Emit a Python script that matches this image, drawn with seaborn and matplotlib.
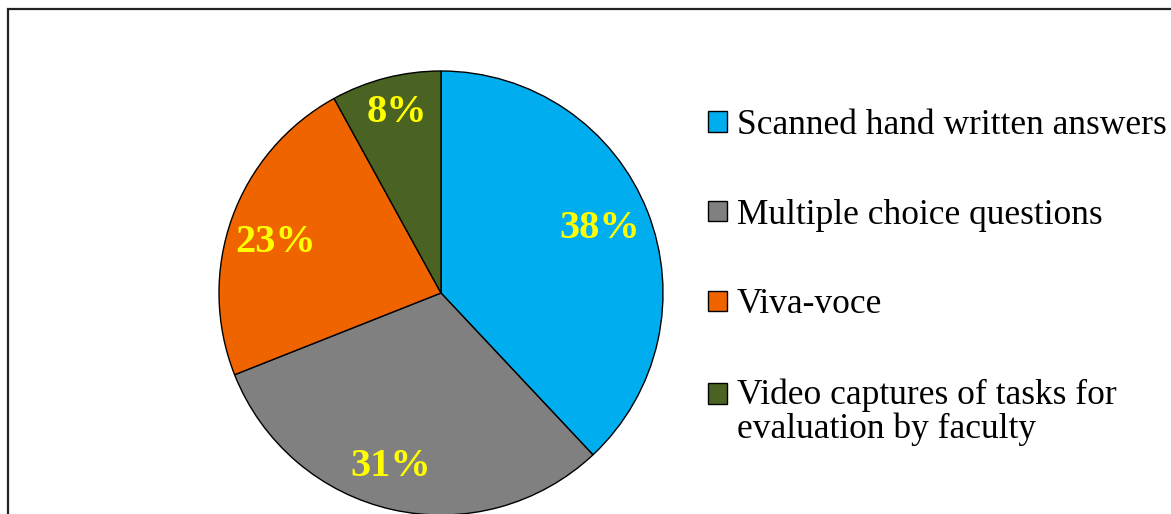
import matplotlib
matplotlib.use("Agg")
import numpy as np
import matplotlib.pyplot as plt
from matplotlib.patches import Rectangle
from matplotlib.legend_handler import HandlerPatch
import seaborn as sns

categories = ["Scanned hand written answers",
              "Multiple choice questions",
              "Viva-voce",
              "Video captures of tasks for\nevaluation by faculty"]
values = [38, 31, 23, 8]
colors = ["#00AEEF", "#808080", "#F06400", "#4A6322"]

# label placement tweaks (radius as fraction of pie radius, angle nudge in deg)
label_r = [0.77, 0.815, 0.78, 0.835]
label_dtheta = [0.5, -3.4, 3.0, -0.7]

sns.set_theme(style="white")
plt.rcParams["font.family"] = ["Liberation Serif", "DejaVu Serif"]

W, H = 1171, 514
fig = plt.figure(figsize=(W / 100, H / 100), dpi=100)
fig.patch.set_facecolor("white")

# outer frame (extends past right/bottom edge like the cropped reference)
fig.patches.append(Rectangle((8 / W, -0.2), 1.2, 1 - 9 / H + 0.2,
                             transform=fig.transFigure, fill=False,
                             edgecolor="#222222", linewidth=1.6))

cx, cy, r = 441, 293, 222
ax = fig.add_axes([(cx - r) / W, (H - cy - r) / H, 2 * r / W, 2 * r / H])
wedges, texts, autotexts = ax.pie(
    values, colors=colors, startangle=90, counterclock=False,
    autopct="%1.0f%%", pctdistance=0.78,
    wedgeprops=dict(edgecolor="black", linewidth=1.0),
    textprops=dict(color="#FFFF00", fontsize=29, fontweight="bold"))
ax.set_xlim(-1, 1)
ax.set_ylim(-1, 1)
ax.set_aspect("equal")
ax.axis("off")

for w, t, rr, dth in zip(wedges, autotexts, label_r, label_dtheta):
    mid = np.deg2rad(0.5 * (w.theta1 + w.theta2) + dth)
    t.set_position((rr * np.cos(mid), rr * np.sin(mid)))

fs = 25.5
line_gap = 1.05


def raised_square(legend, orig_handle, xdescent, ydescent, width, height, fontsize):
    return Rectangle((-xdescent, -ydescent + 0.5 * line_gap * fontsize), width, height)


leg = fig.legend(wedges, categories, loc="upper left",
                 bbox_to_anchor=(708 / W, 1 - 109 / H),
                 frameon=False, fontsize=fs, borderpad=0, borderaxespad=0,
                 handlelength=0.54, handleheight=0.5, handletextpad=0.28,
                 labelspacing=1.6,
                 handler_map={wedges[3]: HandlerPatch(patch_func=raised_square)})
for t in leg.get_texts():
    t.set_linespacing(line_gap)
    t.set_color("black")

fig.savefig("out.png", dpi=100, facecolor="white")
